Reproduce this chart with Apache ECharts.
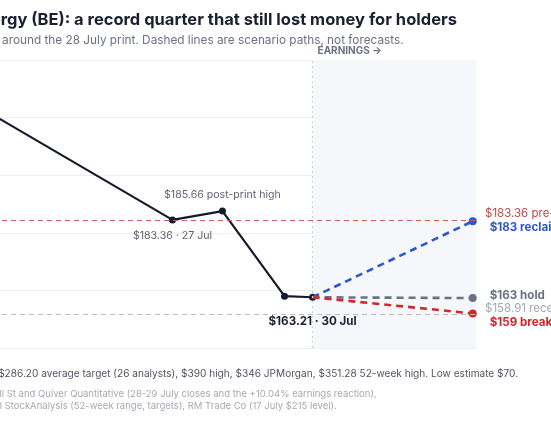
<!DOCTYPE html>
<html>
<head>
<meta charset="utf-8">
<script src="https://cdn.jsdelivr.net/npm/echarts@6/dist/echarts.min.js"></script>
<style>
  html, body { margin: 0; padding: 0; background: #fff; overflow: hidden; }
  /* the chart is wider than the window and shifted left, so the left part is cropped */
  #chart { width: 751px; height: 431px; margin-left: -200px; }
</style>
</head>
<body>
<div id="chart"></div>
<script>
// price path (x = day of July, fractional where the point sits between closes)
const priceDays = [22.55, 27, 28.07, 29.4, 30];
const priceValues = [215, 183.36, 185.66, 163.5, 163.21];
const priceLabels = ['', '$183.36 · 27 Jul', '$185.66 post-print high', '', '$163.21 · 30 Jul'];

// scenario paths from the last close
const scenarioStartDay = 30;
const scenarioStartValue = 163.21;
const scenarioEndDay = 33.43;
const scenarioEndValues = [183, 163, 159];
const scenarioLabels = ['$183 reclaim', '$163 hold', '$159 breakdown'];
const scenarioColors = ['#2b56cf', '#6b7180', '#d3272c'];

// reference levels
const refValues = [183.36, 158.91];
const refLabels = ['$183.36 pre-print close', '$158.91 recent low'];
const refColors = ['#d65a5a', '#b9bdc6'];
const refTextColors = ['#c24848', '#a4a8b2'];

const earningsDay = 30;
const yMin = 150, yMax = 225, yStep = 15;
const xMin = 22, xMax = 33.5;

const shift = 200; // px of the chart hidden left of the window
const font = 'Inter, "Noto Sans", sans-serif';
const chart = echarts.init(document.getElementById('chart'));

const scenarioSeries = scenarioEndValues.map((v, i) => ({
  name: scenarioLabels[i],
  type: 'line',
  z: 4,
  data: [
    { value: [scenarioStartDay, scenarioStartValue], symbolSize: 0 },
    { value: [scenarioEndDay, v] }
  ],
  symbol: 'circle',
  symbolSize: 8,
  itemStyle: { color: scenarioColors[i] },
  lineStyle: { color: scenarioColors[i], width: 2.6, type: [7, 5] },
  label: {
    show: true,
    position: 'right',
    distance: 13,
    offset: [0, [6, -3, 9][i]],
    formatter: p => p.dataIndex === 1 ? scenarioLabels[i] : '',
    color: scenarioColors[i],
    fontFamily: font,
    fontWeight: 700,
    fontSize: 11.6
  },
  animation: false
}));

const option = {
  backgroundColor: '#fff',
  animation: false,
  textStyle: { fontFamily: font },
  grid: { left: shift - 61, right: 75, top: 60, bottom: 83 },
  xAxis: {
    type: 'value',
    min: xMin,
    max: xMax,
    axisLine: { show: false },
    axisTick: { show: false },
    axisLabel: { show: false },
    splitLine: { show: false }
  },
  yAxis: {
    type: 'value',
    min: yMin,
    max: yMax,
    interval: yStep,
    axisLine: { show: false },
    axisTick: { show: false },
    axisLabel: { show: false },
    splitLine: { lineStyle: { color: '#eceef2', width: 1 } }
  },
  series: [
    {
      name: 'Close',
      type: 'line',
      z: 3,
      data: priceDays.map((d, i) => ({
        value: [d, priceValues[i]],
        label: {
          show: priceLabels[i] !== '',
          position: i === 2 ? 'top' : 'bottom',
          distance: i === 4 ? 15 : 7,
          formatter: priceLabels[i],
          color: i === 4 ? '#1c2131' : '#5d6371',
          fontWeight: i === 4 ? 700 : 400,
          fontSize: i === 4 ? 11.6 : 10.6,
          fontFamily: font
        }
      })),
      symbol: 'circle',
      symbolSize: 7,
      itemStyle: { color: '#161b2c' },
      lineStyle: { color: '#161b2c', width: 2.2 },
      markArea: {
        silent: true,
        itemStyle: { color: '#f6f7fa' },
        data: [[{ xAxis: earningsDay }, { xAxis: xMax }]]
      },
      markLine: {
        silent: true,
        symbol: 'none',
        data: [
          {
            xAxis: earningsDay,
            lineStyle: { color: '#cfd3da', type: [2, 3], width: 1.2 },
            label: {
              show: true,
              position: 'end',
              formatter: 'EARNINGS →',
              align: 'left',
              offset: [5, 0],
              distance: 4,
              color: '#6b7180',
              fontWeight: 700,
              fontSize: 10,
              fontFamily: font
            }
          }
        ].concat(refValues.map((v, i) => ({
          yAxis: v,
          lineStyle: { color: refColors[i], type: [5, 4], width: 1.1 },
          label: {
            show: true,
            position: 'end',
            formatter: refLabels[i],
            distance: 9,
            offset: [0, i === 0 ? -6 : -5],
            color: refTextColors[i],
            fontSize: 11.5,
            fontFamily: font
          }
        })))
      }
    }
  ].concat(scenarioSeries),
  graphic: [
    {
      type: 'text', left: shift - 84, top: 12,
      style: {
        text: 'Bloom Energy (BE): a record quarter that still lost money for holders',
        fill: '#1b2030', font: '700 16.5px ' + font
      }
    },
    {
      type: 'text', left: shift - 81, top: 34,
      style: {
        text: 'Closing prices around the 28 July print. Dashed lines are scenario paths, not forecasts.',
        fill: '#6b7180', font: '400 11.8px ' + font
      }
    },
    {
      type: 'text', left: shift - 61, top: 369,
      style: {
        text: 'Street view: $286.20 average target (26 analysts), $390 high, $346 JPMorgan, $351.28 52-week high. Low estimate $70.',
        fill: '#4f5563', font: '400 10.1px ' + font
      }
    },
    {
      type: 'text', left: shift - 57, top: 389,
      style: {
        text: 'Sources: Wall St and Quiver Quantitative (28-29 July closes and the +10.04% earnings reaction),',
        fill: '#a5a9b3', font: '400 9.5px ' + font
      }
    },
    {
      type: 'text', left: shift - 74, top: 401,
      style: {
        text: 'MarketBeat, Intel StockAnalysis (52-week range, targets), RM Trade Co (17 July $215 level).',
        fill: '#a5a9b3', font: '400 9.5px ' + font
      }
    }
  ]
};

chart.setOption(option);
window.addEventListener('resize', () => chart.resize());
</script>
</body>
</html>
